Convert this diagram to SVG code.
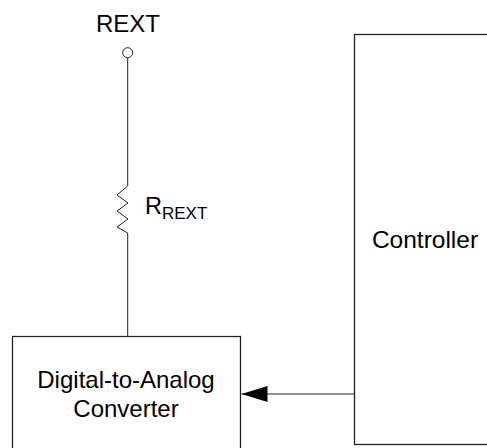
<svg xmlns="http://www.w3.org/2000/svg" width="487" height="448" viewBox="0 0 487 448">
<style>
.box{fill:#fff;stroke:#222;stroke-width:1.3}
.wire{fill:none;stroke:#222;stroke-width:1}
.t{font-family:"Liberation Sans",Arial,sans-serif;fill:#000;text-anchor:middle}
</style>
<defs>
<marker id="ah" markerUnits="userSpaceOnUse" markerWidth="27" markerHeight="18" refX="26" refY="9" orient="auto">
<path d="M0,1 L26,9 L0,17 Z" fill="#000"/>
</marker>
</defs>
<rect width="487" height="448" fill="#fff"/>
<g id="controller">
<rect class="box" x="354.5" y="34.5" width="145" height="410"/>
<text class="t" x="425" y="248" font-size="24.5">Controller</text>
</g>
<g id="dac">
<rect class="box" x="12.5" y="336.5" width="228" height="130"/>
<text class="t" x="126" y="388" font-size="24">Digital-to-Analog</text>
<text class="t" x="126" y="417" font-size="24">Converter</text>
</g>
<g id="rext-pin">
<text class="t" x="128" y="32" font-size="24">REXT</text>
<circle cx="127.7" cy="52.7" r="5" fill="#fff" stroke="#222" stroke-width="1"/>
</g>
<g id="resistor">
<path class="wire" d="M127.7,186 L117,195 L128,203 L117,211 L128,219 L117,227 L127.7,233"/>
<text font-family="'Liberation Sans',Arial,sans-serif" font-size="23.5" x="145" y="214">R<tspan font-size="17" dy="5">REXT</tspan></text>
</g>
<g id="connectors">
<path class="wire" d="M127.7,57.7 V186"/>
<path class="wire" d="M127.7,233 V336.5"/>
<path class="wire" d="M354.5,394 H241.5" marker-end="url(#ah)"/>
</g>
</svg>
